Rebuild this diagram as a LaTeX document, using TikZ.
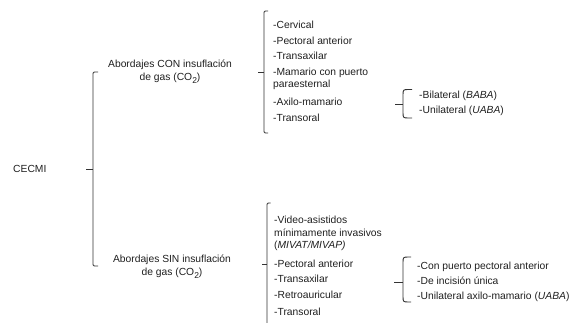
\documentclass[tikz,border=0pt]{standalone}
\usepackage{fontspec}
\setmainfont{Liberation Sans}
\newcommand{\cosub}{\raisebox{-0.4ex}{\fontsize{8.5}{8.5}\selectfont 2}}
\begin{document}
\begin{tikzpicture}[x=1pt,y=-1pt,
  font=\fontsize{10.3}{12.5}\selectfont,
  txt/.style={anchor=base west, inner sep=0pt, align=left, text=black!88},
  lbl/.style={anchor=base, inner sep=0pt, align=center, text=black!88, font=\fontsize{10.3}{13.5}\selectfont},
  brk/.style={draw=black!80, line width=0.9pt, rounded corners=1.2pt},
  tick/.style={draw=black!80, line width=0.9pt}]
\useasboundingbox (0,0) rectangle (573,323);

% root
\node[txt] (cecmi) at (13,172.5) {CECMI};

% level 1 labels (base = last line)
\node[lbl] (con) at (170,81) {Abordajes CON insuflación\\de gas (CO\cosub)};
\node[lbl] (sin) at (172,276) {Abordajes SIN insuflación\\de gas (CO\cosub)};

% upper list
\node[txt] (c1) at (273,28.7) {-Cervical};
\node[txt] (c2) at (273,44.5) {-Pectoral anterior};
\node[txt] (c3) at (273,60) {-Transaxilar};
\node[txt] (c4) at (273,88) {-Mamario con puerto\\paraesternal};
\node[txt] (c5) at (273,105.5) {-Axilo-mamario};
\node[txt] (c6) at (273,121.5) {-Transoral};

\node[txt] (b1) at (419,98.5) {-Bilateral (\textit{BABA})};
\node[txt] (b2) at (419,113.5) {-Unilateral (\textit{UABA})};

% lower list
\node[txt] (s1) at (274,248.7) {-Video-asistidos\\mínimamente invasivos\\(\textit{MIVAT/MIVAP)}};
\node[txt] (s2) at (274,267.7) {-Pectoral anterior};
\node[txt] (s3) at (274,283) {-Transaxilar};
\node[txt] (s4) at (274,298.5) {-Retroauricular};
\node[txt] (s5) at (274,315.5) {-Transoral};

\node[txt] (t1) at (417,269.5) {-Con puerto pectoral anterior};
\node[txt] (t2) at (417,284.5) {-De incisión única};
\node[txt] (t3) at (417,299.5) {-Unilateral axilo-mamario (\textit{UABA})};

% bracket coordinates
\coordinate (r0) at (86,169);
\coordinate (r1) at (93,169);
\coordinate (rt) at (93,72);
\coordinate (rb) at (93,266);

\coordinate (u0) at (258,72);
\coordinate (u1) at (264,72);
\coordinate (ut) at (264,11);
\coordinate (ub) at (264,133);

\coordinate (l0) at (262,264);
\coordinate (l1) at (267,264);
\coordinate (lt) at (267,203);
\coordinate (lb) at (267,323);

% bracket 1 (root)
\draw[brk] ([xshift=5pt]rt) -- (rt) -- (rb) -- ([xshift=5pt]rb);
\draw[tick] (r0) -- (r1);

% bracket 2 (CON)
\draw[brk] ([xshift=4pt]ut) -- (ut) -- (ub) -- ([xshift=4pt]ub);
\draw[tick] (u0) -- (u1);

% bracket 4 (SIN)
\draw[brk] ([xshift=3.5pt]lt) -- (lt) -- (lb);
\draw[tick] (l0) -- (l1);

% bracket 3 (axilo-mamario)
\coordinate (a0) at (395,104);
\coordinate (a1) at (403,104);
\draw[tick] (412,89.5) -- (409,89.5) .. controls (403,89.5) .. (403,95.5) -- (403,112) .. controls (403,118) .. (409,118) -- (412,118);
\draw[tick] (a0) -- (a1);

% bracket 5 (pectoral anterior)
\coordinate (p0) at (394,282);
\coordinate (p1) at (403,282);
\draw[tick] (411,257) -- (409,257) .. controls (403,257) .. (403,263) -- (403,296) .. controls (403,302) .. (409,302) -- (411,302);
\draw[tick] (p0) -- (p1);
\end{tikzpicture}
\end{document}
